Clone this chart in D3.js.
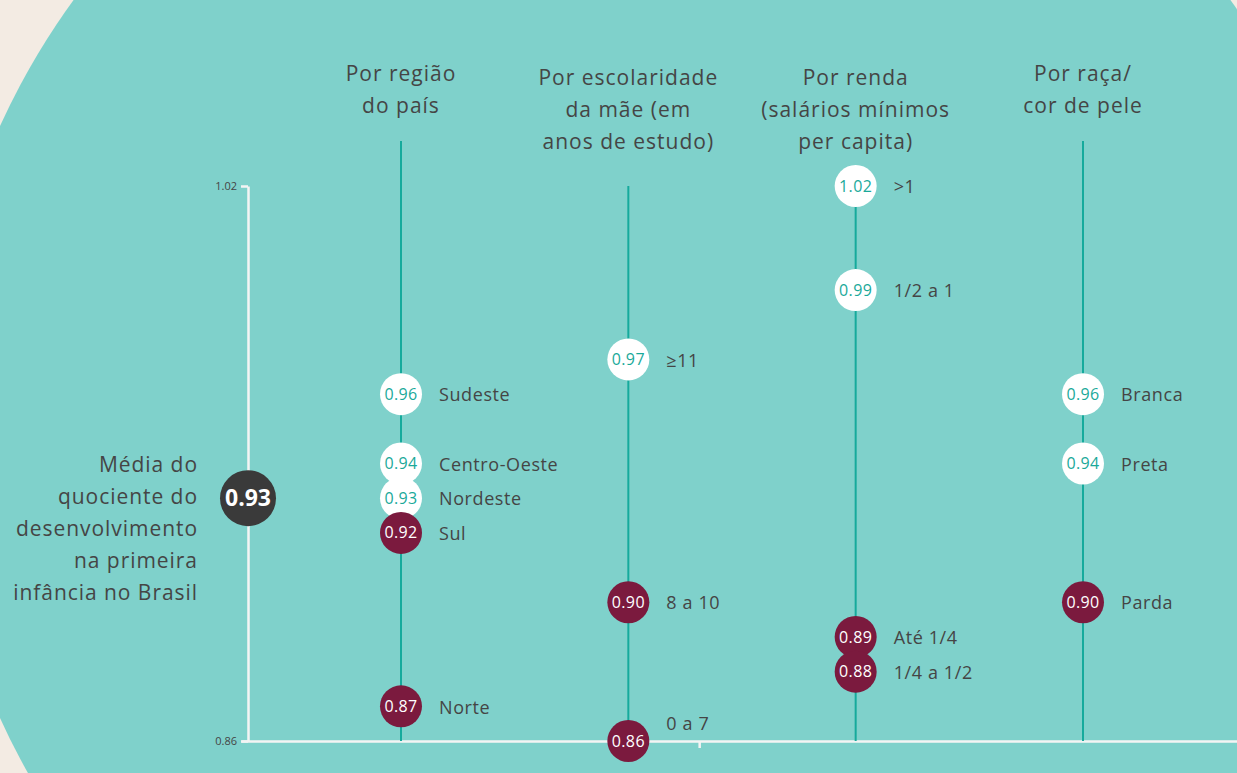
<!DOCTYPE html>
<html>
<head>
<meta charset="utf-8">
<script src="https://cdn.jsdelivr.net/npm/d3@7"></script>
<style>
  body { margin: 0; background: #f3ebe3; }
  text { font-family: "Open Sans", "Noto Sans", sans-serif; }
</style>
</head>
<body>
<div id="vis"></div>
<script>
// frame size
const FRAME_WIDTH = 1237;
const FRAME_HEIGHT = 773;

// data
const MEAN_VALUE = 0.93;
const MEAN_LABEL = ["Média do", "quociente do", "desenvolvimento", "na primeira", "infância no Brasil"];
const Y_TICKS = [0.86, 1.02];

const GROUP_IDS = ["regiao", "escolaridade", "renda", "raca"];
const GROUP_TITLES = [
  ["Por região", "do país"],
  ["Por escolaridade", "da mãe (em", "anos de estudo)"],
  ["Por renda", "(salários mínimos", "per capita)"],
  ["Por raça/", "cor de pele"]
];

const REGION_NAMES = ["Sudeste", "Centro-Oeste", "Nordeste", "Sul", "Norte"];
const REGION_VALUES = [0.96, 0.94, 0.93, 0.92, 0.87];

const SCHOOL_NAMES = ["≥11", "8 a 10", "0 a 7"];
const SCHOOL_VALUES = [0.97, 0.90, 0.86];

const INCOME_NAMES = [">1", "1/2 a 1", "Até 1/4", "1/4 a 1/2"];
const INCOME_VALUES = [1.02, 0.99, 0.89, 0.88];

const RACE_NAMES = ["Branca", "Preta", "Parda"];
const RACE_VALUES = [0.96, 0.94, 0.90];

// colours
const TEAL_BG = "#7fd1cb";
const TEAL_LINE = "#15aa9c";
const MAROON = "#7b1a3e";
const DARK = "#3a3a3a";
const TEXT = "#454545";

// svg
const svg = d3.select("#vis")
  .append("svg")
  .attr("width", FRAME_WIDTH)
  .attr("height", FRAME_HEIGHT);

// background: cream page with a big teal disc
svg.append("rect")
  .attr("width", FRAME_WIDTH)
  .attr("height", FRAME_HEIGHT)
  .attr("fill", "#f3ebe3");

svg.append("circle")
  .attr("cx", 652)
  .attr("cy", 422)
  .attr("r", 716)
  .attr("fill", TEAL_BG);

// scales
const Y_SCALE = d3.scaleLinear()
  .domain([0.86, 1.02])
  .range([741, 186]);

const X_SCALE = d3.scalePoint()
  .domain(GROUP_IDS)
  .range([401, 1083]);

const AXIS_X = 248;

// bottom axis (one stray tick, no label)
const X_AXIS_SCALE = d3.scaleLinear().domain([0, 1]).range([AXIS_X - 7, FRAME_WIDTH]);
const xAxis = svg.append("g")
  .attr("transform", "translate(0," + Y_SCALE(0.86) + ")")
  .call(d3.axisBottom(X_AXIS_SCALE).tickValues([0.46]).tickFormat("").tickSize(7).tickSizeOuter(0));
xAxis.selectAll("path, line").attr("stroke", "#f4f4f4").attr("stroke-width", 2.5);

// left axis
const yAxis = svg.append("g")
  .attr("transform", "translate(" + AXIS_X + ",0)")
  .call(d3.axisLeft(Y_SCALE).tickValues(Y_TICKS).tickFormat(d3.format(".2f")).tickSize(7).tickSizeOuter(0).tickPadding(4));
yAxis.select(".domain").attr("stroke", "#f4f4f4").attr("stroke-width", 2.5);
yAxis.selectAll(".tick line").attr("stroke", "#f4f4f4").attr("stroke-width", 2.5);
yAxis.selectAll(".tick text")
  .attr("fill", TEXT)
  .attr("font-size", 11)
  .style("font-family", "'Open Sans', sans-serif");

// left label for the national mean
svg.append("text")
  .attr("text-anchor", "end")
  .attr("fill", TEXT)
  .attr("font-size", 21)
  .attr("letter-spacing", 0.95)
  .selectAll("tspan")
  .data(MEAN_LABEL)
  .enter()
  .append("tspan")
    .attr("x", 198)
    .attr("y", (d, i) => 472 + i * 32)
    .text((d) => d);

// groups of points
const GROUPS = [
  { id: "regiao", names: REGION_NAMES, values: REGION_VALUES },
  { id: "escolaridade", names: SCHOOL_NAMES, values: SCHOOL_VALUES },
  { id: "renda", names: INCOME_NAMES, values: INCOME_VALUES },
  { id: "raca", names: RACE_NAMES, values: RACE_VALUES }
];

GROUPS.forEach((g, gi) => {
  const cx = X_SCALE(g.id);
  const title = GROUP_TITLES[gi];
  const firstLine = title.length === 2 ? 81 : 85;

  // column title
  svg.append("text")
    .attr("text-anchor", "middle")
    .attr("fill", TEXT)
    .attr("font-size", 21)
    .attr("letter-spacing", 1)
    .selectAll("tspan")
    .data(title)
    .enter()
    .append("tspan")
      .attr("x", cx)
      .attr("y", (d, i) => firstLine + i * 32)
      .text((d) => d);

  // vertical stem
  const top = title.length === 2 ? Y_SCALE(1.02) - 45 : Y_SCALE(1.02);
  svg.append("line")
    .attr("x1", cx).attr("x2", cx)
    .attr("y1", top)
    .attr("y2", Y_SCALE(0.86))
    .attr("stroke", TEAL_LINE)
    .attr("stroke-width", 2);

  const pts = g.names.map((n, i) => ({ name: n, value: g.values[i] }));

  const node = svg.append("g").selectAll("g")
    .data(pts)
    .enter()
    .append("g")
      .attr("transform", (d) => "translate(" + cx + "," + Y_SCALE(d.value) + ")");

  node.append("circle")
    .attr("r", 21)
    .attr("fill", (d) => d.value >= MEAN_VALUE ? "#ffffff" : MAROON);

  node.append("text")
    .attr("text-anchor", "middle")
    .attr("dy", "0.35em")
    .attr("font-size", 16)
    .attr("letter-spacing", 0.4)
    .attr("fill", (d) => d.value >= MEAN_VALUE ? "#1aa99a" : "#ffffff")
    .text((d) => d3.format(".2f")(d.value));

  // category label to the right
  node.append("text")
    .attr("x", 38)
    .attr("dy", (d) => d.value === Y_SCALE.domain()[0] ? "-0.6em" : "0.4em")
    .attr("font-size", 18)
    .attr("letter-spacing", 0.6)
    .attr("fill", TEXT)
    .text((d) => d.name);
});

// national mean circle on the axis
svg.append("circle")
  .attr("cx", AXIS_X)
  .attr("cy", Y_SCALE(MEAN_VALUE))
  .attr("r", 28)
  .attr("fill", DARK);

svg.append("text")
  .attr("x", AXIS_X)
  .attr("y", Y_SCALE(MEAN_VALUE))
  .attr("dy", "0.36em")
  .attr("text-anchor", "middle")
  .attr("font-size", 23)
  .attr("font-weight", "bold")
  .attr("fill", "#ffffff")
  .text(d3.format(".2f")(MEAN_VALUE));
</script>
</body>
</html>
